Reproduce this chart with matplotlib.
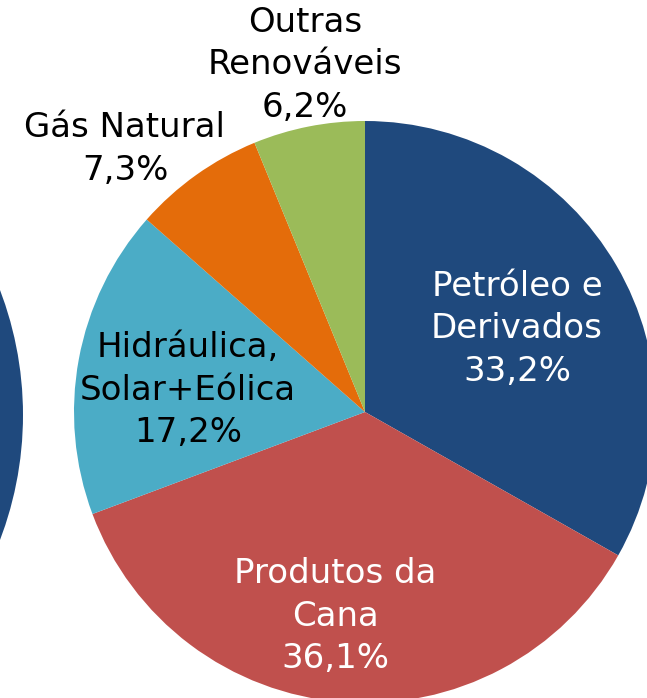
import matplotlib
matplotlib.use("Agg")
import matplotlib.pyplot as plt
from matplotlib.patches import Circle

categories = ["Petróleo e\nDerivados", "Produtos da\nCana", "Hidráulica,\nSolar+Eólica", "Gás Natural", "Outras\nRenováveis"]
values = [33.2, 36.1, 17.2, 7.3, 6.2]
pct_labels = ["33,2%", "36,1%", "17,2%", "7,3%", "6,2%"]
colors = ["#1F497D", "#C0504D", "#4BACC6", "#E46C0A", "#9BBB59"]
text_colors = ["white", "white", "black", "black", "black"]

W, H = 647, 698
fig = plt.figure(figsize=(W / 100, H / 100), dpi=100)
ax = fig.add_axes([0, 0, 1, 1])

# partial neighbouring pie at the left edge
ax.add_patch(Circle((-328, H - 415), 351, facecolor="#1F497D", edgecolor="none"))

cx, cy, r = 365, H - 412, 291
ax.pie(values, colors=colors, startangle=90, counterclock=False,
       center=(cx, cy), radius=r, frame=True,
       wedgeprops=dict(edgecolor="none", linewidth=0))
ax.set_xlim(0, W)
ax.set_ylim(0, H)
ax.set_aspect("equal")
ax.axis("off")

label_pos = [(517, 329), (335, 616), (188, 390), (125, 149), (305, 65)]
for cat, pct, tc, (px, py) in zip(categories, pct_labels, text_colors, label_pos):
    ax.text(px, H - py, f"{cat}\n{pct}", ha="center", va="center", color=tc,
            fontsize=24.5, family="DejaVu Sans", linespacing=1.38)

fig.savefig("out.png", dpi=100)
